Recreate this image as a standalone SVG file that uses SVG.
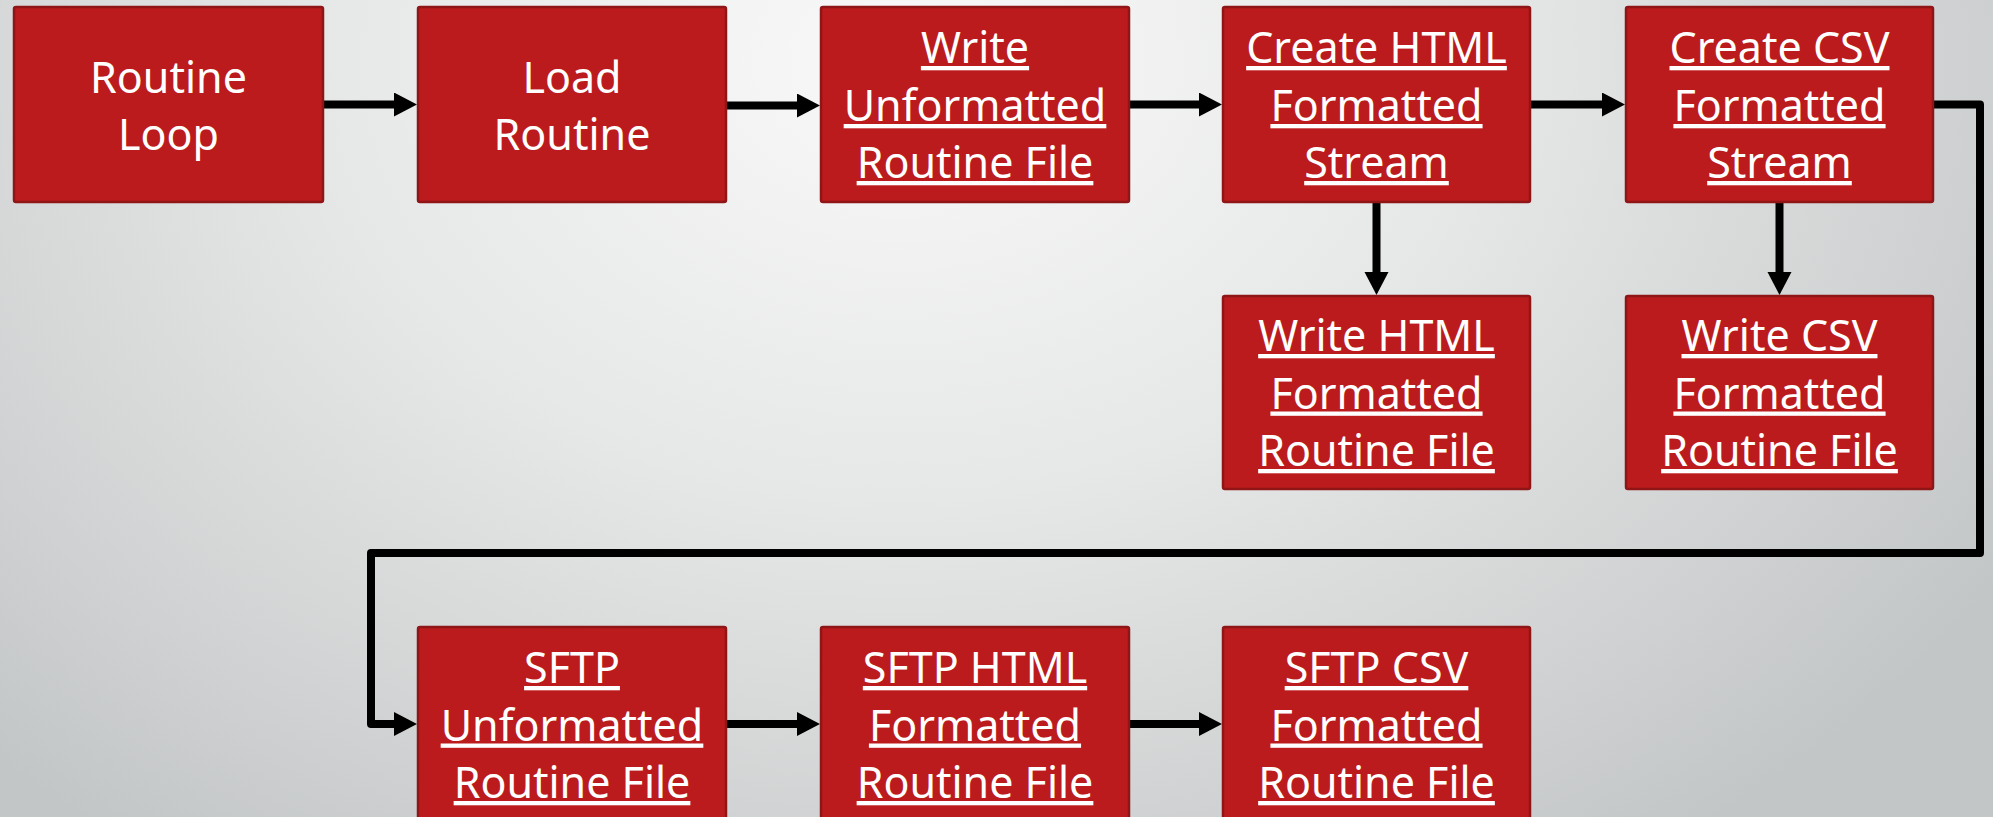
<svg xmlns="http://www.w3.org/2000/svg" width="1993" height="817" viewBox="0 0 1993 817">
<defs>
<radialGradient id="bg" cx="900" cy="60" r="1300" gradientUnits="userSpaceOnUse" gradientTransform="translate(900 60) scale(1 0.75) translate(-900 -60)">
<stop offset="0" stop-color="#f9f9f9"/>
<stop offset="0.45" stop-color="#e6e7e7"/>
<stop offset="1" stop-color="#c3c6c7"/>
</radialGradient>
<marker id="ah" markerUnits="userSpaceOnUse" markerWidth="26" markerHeight="26" refX="1" refY="12" orient="auto">
<path d="M0,0 L23,12 L0,24 z" fill="#000"/>
</marker>
<style>
.box{fill:#bb1b1d;stroke:#8f1517;stroke-width:2.5;}
.t{font-family:"Noto Sans","Open Sans","DejaVu Sans",sans-serif;font-size:43px;fill:#ffffff;text-anchor:middle;}
.u{text-decoration:underline;}
.c{fill:none;stroke:#000;stroke-width:8;stroke-linecap:round;stroke-linejoin:round;marker-end:url(#ah);}
</style>
</defs>
<rect x="0" y="0" width="1993" height="817" fill="url(#bg)"/>
<g id="connectors">
<path class="c" d="M323,104.5 H395"/>
<path class="c" d="M726,105.5 H798"/>
<path class="c" d="M1129,104.5 H1200"/>
<path class="c" d="M1530,104.5 H1603"/>
<path class="c" d="M1376.5,201 V273"/>
<path class="c" d="M1779.5,201 V273"/>
<path class="c" d="M1933,104.5 H1980 V553 H371 V724 H395"/>
<path class="c" d="M726,724 H798"/>
<path class="c" d="M1129,724 H1200"/>
</g>
<g id="n1"><rect class="box" x="14" y="7" width="309" height="195" rx="2"/>
<text class="t" x="168.5" y="93">Routine</text><text class="t" x="168.5" y="150">Loop</text></g>
<g id="n2"><rect class="box" x="418" y="7" width="308" height="195" rx="2"/>
<text class="t" x="572" y="93">Load</text><text class="t" x="572" y="150">Routine</text></g>
<g id="n3"><rect class="box" x="821" y="7" width="308" height="195" rx="2"/>
<text class="t u" x="975" y="63">Write</text><text class="t u" x="975" y="121">Unformatted</text><text class="t u" x="975" y="178">Routine File</text></g>
<g id="n4"><rect class="box" x="1223" y="7" width="307" height="195" rx="2"/>
<text class="t u" x="1376.5" y="63">Create HTML</text><text class="t u" x="1376.5" y="121">Formatted</text><text class="t u" x="1376.5" y="178">Stream</text></g>
<g id="n5"><rect class="box" x="1626" y="7" width="307" height="195" rx="2"/>
<text class="t u" x="1779.5" y="63">Create CSV</text><text class="t u" x="1779.5" y="121">Formatted</text><text class="t u" x="1779.5" y="178">Stream</text></g>
<g id="n6"><rect class="box" x="1223" y="296" width="307" height="193" rx="2"/>
<text class="t u" x="1376.5" y="351">Write HTML</text><text class="t u" x="1376.5" y="408.5">Formatted</text><text class="t u" x="1376.5" y="466">Routine File</text></g>
<g id="n7"><rect class="box" x="1626" y="296" width="307" height="193" rx="2"/>
<text class="t u" x="1779.5" y="351">Write CSV</text><text class="t u" x="1779.5" y="408.5">Formatted</text><text class="t u" x="1779.5" y="466">Routine File</text></g>
<g id="n8"><rect class="box" x="418" y="627" width="308" height="200" rx="2"/>
<text class="t u" x="572" y="683">SFTP</text><text class="t u" x="572" y="740.5">Unformatted</text><text class="t u" x="572" y="798">Routine File</text></g>
<g id="n9"><rect class="box" x="821" y="627" width="308" height="200" rx="2"/>
<text class="t u" x="975" y="683">SFTP HTML</text><text class="t u" x="975" y="740.5">Formatted</text><text class="t u" x="975" y="798">Routine File</text></g>
<g id="n10"><rect class="box" x="1223" y="627" width="307" height="200" rx="2"/>
<text class="t u" x="1376.5" y="683">SFTP CSV</text><text class="t u" x="1376.5" y="740.5">Formatted</text><text class="t u" x="1376.5" y="798">Routine File</text></g>
</svg>
